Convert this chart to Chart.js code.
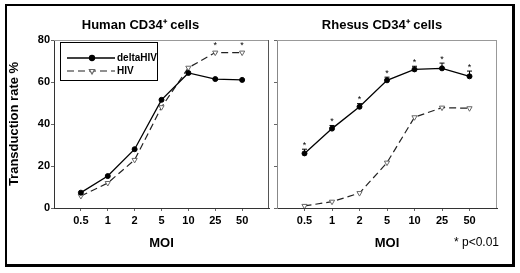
<!DOCTYPE html>
<html>
<head>
<meta charset="utf-8">
<script src="https://cdn.jsdelivr.net/npm/chart.js@4.4.0/dist/chart.umd.min.js"></script>
<style>
  body { margin: 0; width: 520px; height: 273px; background: #fff; position: relative; overflow: hidden; }
  .frame { position: absolute; left: 5px; top: 4px; width: 510px; height: 263px; box-sizing: border-box;
           border: 2px solid #000; border-right-width: 3px; border-bottom-width: 3px; }
  canvas { position: absolute; }
</style>
</head>
<body>
<div class="frame"></div>
<canvas id="human" width="266" height="252" style="left:8px;top:8px"></canvas>
<canvas id="rhesus" width="236" height="252" style="left:266px;top:8px"></canvas>
<script>
const moi = ['0.5', '1', '2', '5', '10', '25', '50'];
const yTicks = [0, 20, 40, 60, 80];

const humanDelta = [7.3, 15.2, 28, 51.5, 64.3, 61.4, 61];
const humanHiv = [5.7, 11.9, 22.9, 48, 66.8, 74, 74];
const humanHivSig = [0, 0, 0, 0, 0, 1, 1];

const rhesusDelta = [26, 37.8, 48.2, 60.8, 66, 66.5, 62.7];
const rhesusDeltaErr = [2, 1.5, 1.5, 1.5, 1.5, 2.5, 2.5];
const rhesusDeltaSig = [1, 1, 1, 1, 1, 1, 1];
const rhesusHiv = [1, 3, 7.1, 21.6, 43.2, 47.8, 47.5];

const FONT = "Arial, 'Liberation Sans', sans-serif";

const toPoints = arr => arr.map((v, i) => ({ x: i + 1, y: v }));

function deltaSet(values) {
    return {
        label: 'deltaHIV',
        data: toPoints(values),
        borderColor: '#000',
        borderWidth: 1.3,
        pointRadius: 2.5,
        pointBorderWidth: 1,
        pointBackgroundColor: '#000',
        pointBorderColor: '#000',
        tension: 0
    };
}

function hivSet(values) {
    return {
        label: 'HIV',
        data: toPoints(values),
        borderColor: '#222',
        borderWidth: 1.2,
        borderDash: [7, 4],
        pointStyle: 'triangle',
        rotation: 180,
        pointRadius: 3,
        pointBackgroundColor: '#fff',
        pointBorderColor: '#666',
        pointBorderWidth: 1,
        tension: 0
    };
}

// grey frame round the plot area
const boxPlugin = {
    id: 'box',
    beforeDatasetsDraw(chart, args, opts) {
        const { ctx, chartArea: a } = chart;
        ctx.save();
        ctx.lineWidth = 1;
        ctx.strokeStyle = '#999';
        ctx.beginPath();
        ctx.moveTo(a.left, a.top + 0.5);
        ctx.lineTo(a.right, a.top + 0.5);
        ctx.stroke();
        ctx.strokeStyle = opts.rightColor || '#999';
        ctx.beginPath();
        ctx.moveTo(a.right - 0.5, a.top);
        ctx.lineTo(a.right - 0.5, a.bottom);
        ctx.stroke();
        ctx.restore();
    }
};

// error bars and significance stars
const marksPlugin = {
    id: 'marks',
    afterDatasetsDraw(chart, args, opts) {
        const { ctx, scales: { x, y } } = chart;
        ctx.save();
        ctx.strokeStyle = '#000';
        ctx.lineWidth = 1;
        ctx.fillStyle = '#000';
        ctx.font = '9px ' + FONT;
        ctx.textAlign = 'center';
        ctx.textBaseline = 'middle';
        (opts.items || []).forEach(item => {
            item.values.forEach((v, i) => {
                const px = x.getPixelForValue(i + 1);
                let top = y.getPixelForValue(v);
                if (item.err) {
                    const ey = y.getPixelForValue(v + item.err[i]);
                    ctx.beginPath();
                    ctx.moveTo(px, top);
                    ctx.lineTo(px, ey);
                    ctx.moveTo(px - 2.5, ey);
                    ctx.lineTo(px + 2.5, ey);
                    ctx.stroke();
                    top = ey;
                } else {
                    top -= 3;
                }
                if (item.sig && item.sig[i]) {
                    ctx.fillText('*', px, top - 4);
                }
            });
        });
        ctx.restore();
    }
};

// legend box inside the plot, line sample with marker
const legendBoxPlugin = {
    id: 'legendBox',
    afterDraw(chart, args, opts) {
        if (!opts.show) return;
        const { ctx } = chart;
        const bx = 52, by = 34, bw = 97, bh = 38;
        ctx.save();
        ctx.strokeStyle = '#000';
        ctx.lineWidth = 1;
        ctx.strokeRect(bx + 0.5, by + 0.5, bw, bh);
        ctx.font = 'bold 10px ' + FONT;
        ctx.textBaseline = 'middle';
        chart.data.datasets.forEach((ds, i) => {
            const ly = by + 16 + i * 13;
            ctx.strokeStyle = ds.borderColor;
            ctx.lineWidth = ds.borderWidth;
            ctx.setLineDash(ds.borderDash || []);
            ctx.beginPath();
            ctx.moveTo(bx + 7, ly);
            ctx.lineTo(bx + 55, ly);
            ctx.stroke();
            ctx.setLineDash([]);
            ctx.fillStyle = ds.pointBackgroundColor;
            ctx.strokeStyle = ds.pointBorderColor;
            Chart.helpers.drawPoint(ctx, {
                pointStyle: ds.pointStyle || 'circle',
                rotation: ds.rotation || 0,
                radius: ds.pointRadius,
                borderWidth: 1
            }, bx + 32, ly);
            ctx.fillStyle = '#000';
            ctx.fillText(ds.label, bx + 57, ly);
        });
        ctx.restore();
    }
};

// footnote text
const notePlugin = {
    id: 'note',
    afterDraw(chart, args, opts) {
        if (!opts.text) return;
        const { ctx } = chart;
        ctx.save();
        ctx.font = '12px ' + FONT;
        ctx.fillStyle = '#000';
        ctx.textBaseline = 'middle';
        ctx.fillText(opts.text, opts.x, opts.y);
        ctx.restore();
    }
};

function makePanel(id, cfg) {
    const ctx = document.getElementById(id).getContext('2d');
    return new Chart(ctx, {
        type: 'line',
        data: { datasets: cfg.datasets },
        plugins: [boxPlugin, marksPlugin, legendBoxPlugin, notePlugin],
        options: {
            responsive: false,
            animation: false,
            layout: { padding: { left: 0, right: cfg.padRight, top: 0, bottom: 0 } },
            plugins: {
                legend: { display: false },
                tooltip: { enabled: false },
                title: {
                    display: true,
                    text: cfg.title,
                    color: '#000',
                    font: { family: FONT, size: 13, weight: 'bold' },
                    padding: { top: 9.2, bottom: 7.2 }
                },
                box: { rightColor: cfg.boxRight },
                marks: { items: cfg.marks },
                legendBox: { show: cfg.legend },
                note: cfg.note || {}
            },
            scales: {
                x: {
                    type: 'linear',
                    min: 0,
                    max: 8,
                    afterBuildTicks: scale => { scale.ticks = moi.map((m, i) => ({ value: i + 1 })); },
                    afterFit: scale => { scale.height = 52; },
                    ticks: {
                        color: '#000',
                        padding: 3,
                        maxRotation: 0,
                        font: { family: FONT, size: 11, weight: 'bold' },
                        callback: v => moi[v - 1]
                    },
                    grid: { drawOnChartArea: false, drawTicks: true, tickLength: 3, color: '#666' },
                    border: { color: '#333', width: 1 },
                    title: {
                        display: true,
                        text: 'MOI',
                        color: '#000',
                        font: { family: FONT, size: 13, weight: 'bold' },
                        padding: { top: 0, bottom: 9.2 }
                    }
                },
                y: {
                    min: 0,
                    max: 80,
                    afterBuildTicks: scale => { scale.ticks = yTicks.map(v => ({ value: v })); },
                    afterFit: scale => { scale.width = cfg.yWidth; },
                    ticks: {
                        display: cfg.yLabels,
                        color: '#000',
                        padding: 1,
                        font: { family: FONT, size: 11, weight: 'bold' }
                    },
                    grid: { drawOnChartArea: false, drawTicks: true, tickLength: 3, color: '#666' },
                    border: { color: cfg.yAxisColor, width: 1 },
                    title: {
                        display: cfg.yLabels,
                        text: 'Transduction rate %',
                        color: '#000',
                        font: { family: FONT, size: 13, weight: 'bold', lineHeight: 1 },
                        padding: 0
                    }
                }
            }
        }
    });
}

makePanel('human', {
    title: 'Human CD34\u207A cells',
    datasets: [deltaSet(humanDelta), hivSet(humanHiv)],
    padRight: 1,
    yWidth: 46,
    yLabels: true,
    yAxisColor: '#333',
    boxRight: '#555',
    legend: true,
    marks: [{ values: humanHiv, sig: humanHivSig }]
});

makePanel('rhesus', {
    title: 'Rhesus CD34\u207A cells',
    datasets: [deltaSet(rhesusDelta), hivSet(rhesusHiv)],
    padRight: 4,
    yWidth: 11,
    yLabels: false,
    yAxisColor: '#888',
    boxRight: '#999',
    legend: false,
    marks: [{ values: rhesusDelta, err: rhesusDeltaErr, sig: rhesusDeltaSig }],
    note: { text: '* p<0.01', x: 188, y: 235 }
});
</script>
</body>
</html>
